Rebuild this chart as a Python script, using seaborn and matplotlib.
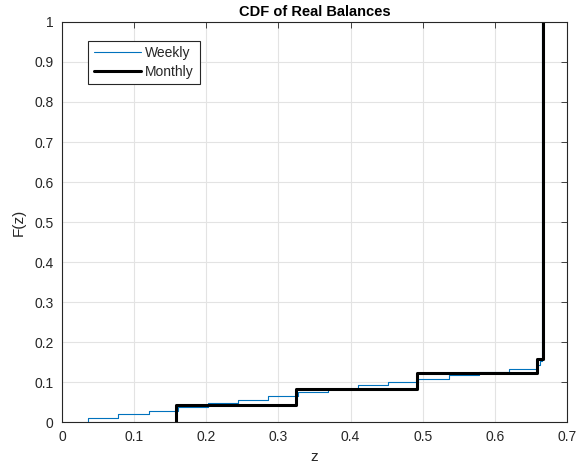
import matplotlib
matplotlib.use("Agg")
import matplotlib.pyplot as plt
import seaborn as sns
import pandas as pd

# step locations (z) and CDF value after each step
z_weekly = [0.0365, 0.078, 0.12, 0.161, 0.203, 0.244, 0.286, 0.3276, 0.369,
            0.41, 0.452, 0.493, 0.5365, 0.5785, 0.62, 0.659, 0.662, 0.666]
F_weekly = [0.011, 0.019, 0.028, 0.037, 0.047, 0.055, 0.065, 0.076, 0.083,
            0.0925, 0.101, 0.1075, 0.1175, 0.125, 0.1325, 0.1425, 0.152, 1.0]

z_monthly = [0.158, 0.325, 0.4926, 0.659, 0.6663]
F_monthly = [0.042, 0.082, 0.123, 0.1575, 1.0]

x_ticks = [0, 0.1, 0.2, 0.3, 0.4, 0.5, 0.6, 0.7]
y_ticks = [0, 0.1, 0.2, 0.3, 0.4, 0.5, 0.6, 0.7, 0.8, 0.9, 1]

sns.set_style("white")
plt.rcParams['font.family'] = ['Liberation Sans', 'DejaVu Sans']

def steps(z, F):
    # start each curve at F = 0 at its first jump
    return pd.DataFrame({'z': [z[0]] + z, 'F': [0.0] + F})

dark = '#262626'
fig = plt.figure(figsize=(5.79, 4.70), dpi=100)
ax = fig.add_axes([0.1071, 0.1021, 0.8722, 0.8511])

sns.lineplot(data=steps(z_weekly, F_weekly), x='z', y='F', ax=ax, color='#0072BD',
             linewidth=0.8, drawstyle='steps-post', estimator=None, sort=False, label='Weekly')
sns.lineplot(data=steps(z_monthly, F_monthly), x='z', y='F', ax=ax, color='black',
             linewidth=2.2, drawstyle='steps-post', estimator=None, sort=False, label='Monthly')

ax.set_xlim(0, 0.7)
ax.set_ylim(0, 1)
ax.set_xticks(x_ticks)
ax.set_yticks(y_ticks)
ax.set_xticklabels([f"{t:g}" for t in x_ticks])
ax.set_yticklabels([f"{t:g}" for t in y_ticks])
ax.grid(True, color='#e3e3e3', linewidth=0.8)
ax.set_axisbelow(True)
ax.tick_params(direction='in', length=4, width=0.6, colors=dark, labelsize=10,
               top=True, right=True, pad=6)
for s in ax.spines.values():
    s.set_color(dark)
    s.set_linewidth(0.8)

ax.set_title("CDF of Real Balances", fontsize=10.5, fontweight='bold', color='black', pad=4)
ax.set_xlabel("z", fontsize=11, color=dark, labelpad=4)
ax.set_ylabel("F(z)", fontsize=11, color=dark, labelpad=6)

leg = ax.legend(loc='upper left', bbox_to_anchor=(0.052, 0.953), borderaxespad=0,
                fancybox=False, framealpha=1, edgecolor=dark, fontsize=10,
                handlelength=3.4, handletextpad=0.3, labelspacing=0.3,
                borderpad=0.4)
leg.get_frame().set_linewidth(0.8)
for t in leg.get_texts():
    t.set_color(dark)

fig.savefig("out.png", dpi=100)
